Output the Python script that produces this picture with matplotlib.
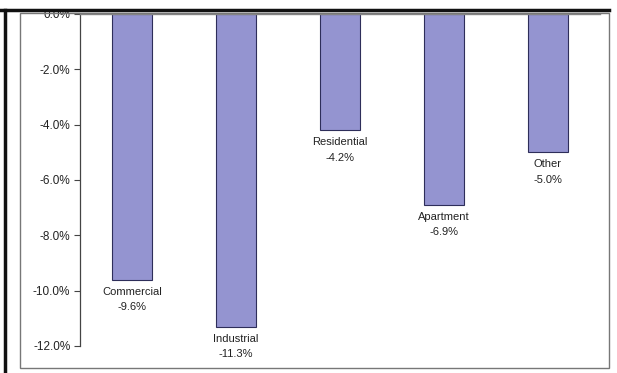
import matplotlib.pyplot as plt
from matplotlib.patches import Rectangle
from matplotlib.lines import Line2D

# chart data
categories = ['Commercial', 'Industrial', 'Residential', 'Apartment', 'Other']
changes = [-9.6, -11.3, -4.2, -6.9, -5.0]
tick_values = [0, -2, -4, -6, -8, -10, -12]
tick_labels = ['0.0%', '-2.0%', '-4.0%', '-6.0%', '-8.0%', '-10.0%', '-12.0%']

plt.rcParams['font.family'] = ['Liberation Sans', 'DejaVu Sans']

fig = plt.figure(figsize=(6.17, 3.73), dpi=100)
ax = fig.add_axes([80 / 617, 1 - 346 / 373, 520 / 617, 332 / 373])

x = range(len(categories))
ax.bar(x, changes, width=0.39, color='#9494d0', edgecolor='#2e2e5a', linewidth=0.8)

# two-line labels under each bar
for i, (name, val) in enumerate(zip(categories, changes)):
    ax.annotate(f'{name}\n{val:.1f}%', (i, val), xytext=(0, -5),
                textcoords='offset points', ha='center', va='top',
                fontsize=8, color='#222222', linespacing=1.7)

ax.set_xlim(-0.5, 4.5)
ax.set_ylim(-12, 0)
ax.set_xticks([])
ax.set_yticks(tick_values)
ax.set_yticklabels(tick_labels, fontsize=8.5, color='#222222')
ax.tick_params(axis='y', length=4, width=0.8, color='#444444', pad=3)

for side in ['bottom', 'right']:
    ax.spines[side].set_visible(False)
ax.spines['left'].set_color('#444444')
ax.spines['left'].set_linewidth(0.9)
ax.spines['top'].set_color('#888888')
ax.spines['top'].set_linewidth(1.0)

# chart area border and scanned frame
fig.patches.append(Rectangle((20 / 617, 1 - 368 / 373), 589 / 617, 355 / 373,
                             transform=fig.transFigure, fill=False,
                             edgecolor='#777777', linewidth=1.0))
fig.lines.append(Line2D([0, 609 / 617], [1 - 10 / 373, 1 - 10 / 373],
                        transform=fig.transFigure, color='#111111', linewidth=2.5))
fig.lines.append(Line2D([5 / 617, 5 / 617], [0, 1 - 10 / 373],
                        transform=fig.transFigure, color='#111111', linewidth=2.5))

plt.savefig('out.png', dpi=100)
